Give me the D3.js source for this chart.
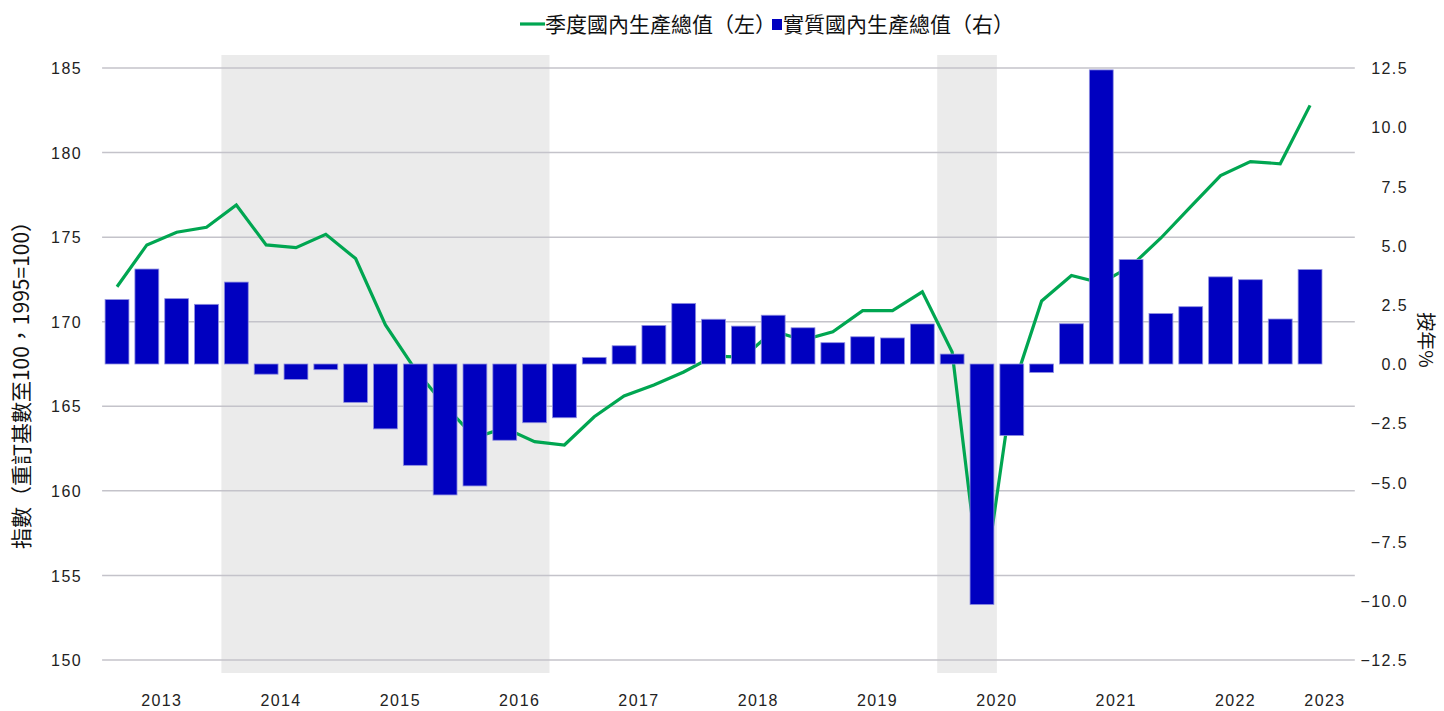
<!DOCTYPE html>
<html>
<head>
<meta charset="utf-8">
<script src="https://cdn.jsdelivr.net/npm/d3@7"></script>
<style>
  html, body { margin: 0; padding: 0; background: #fff; }
  svg { display: block; }
  .tick-label { font-family: "Liberation Sans", Arial, sans-serif; font-size: 16px; letter-spacing: 1.4px; fill: #222; }
  .cjk { font-family: "Noto Sans CJK TC", "Noto Sans CJK SC", sans-serif; fill: #111; }
</style>
</head>
<body>
<svg id="chart" width="1444" height="711"></svg>
<script>
// ---------------- data ----------------
const quarters = [
  "2013Q1","2013Q2","2013Q3","2013Q4",
  "2014Q1","2014Q2","2014Q3","2014Q4",
  "2015Q1","2015Q2","2015Q3","2015Q4",
  "2016Q1","2016Q2","2016Q3","2016Q4",
  "2017Q1","2017Q2","2017Q3","2017Q4",
  "2018Q1","2018Q2","2018Q3","2018Q4",
  "2019Q1","2019Q2","2019Q3","2019Q4",
  "2020Q1","2020Q2","2020Q3","2020Q4",
  "2021Q1","2021Q2","2021Q3","2021Q4",
  "2022Q1","2022Q2","2022Q3","2022Q4",
  "2023Q1","2023Q2"
];
// 季度國內生產總值 index (left axis)
const gdpIndex = [
  172.07, 174.54, 175.29, 175.58,
  176.90, 174.54, 174.38, 175.17,
  173.73, 169.81, 167.17, 165.03,
  163.15, 163.72, 162.91, 162.71,
  164.38, 165.61, 166.26, 167.03,
  167.97, 167.91, 169.45, 168.92,
  169.40, 170.65, 170.65, 171.77,
  168.21, 153.60, 165.84, 171.23,
  172.73, 172.29, 173.29, 174.95,
  176.81, 178.64, 179.47, 179.34,
  182.79
];
// 實質國內生產總值 YoY % (right axis)
const gdpYoY = [
  2.72, 4.01, 2.76, 2.52,
  3.46, -0.43, -0.65, -0.24,
  -1.62, -2.74, -4.28, -5.53,
  -5.15, -3.22, -2.48, -2.27,
  0.28, 0.77, 1.63, 2.56,
  1.89, 1.60, 2.06, 1.53,
  0.90, 1.15, 1.10, 1.69,
  0.42, -10.16, -3.02, -0.36,
  1.70, 12.42, 4.41, 2.13,
  2.42, 3.68, 3.56, 1.90,
  3.99
];
const years = ["2013","2014","2015","2016","2017","2018","2019","2020","2021","2022","2023"];
const leftTicks = [150, 155, 160, 165, 170, 175, 180, 185];
const rightTicks = [-12.5, -10, -7.5, -5, -2.5, 0, 2.5, 5, 7.5, 10, 12.5];
const shadedStart = ["2014Q1", "2020Q1"];
const shadedEnd = ["2016Q3", "2020Q2"];
const legendLabels = ["季度國內生產總值（左）", "實質國內生產總值（右）"];
const leftTitle = "指數（重訂基數至100，1995=100）";
const rightTitle = "按年%";

// ---------------- layout ----------------
const plotLeft = 102.1, plotRight = 1354.8, plotTop = 68, plotBottom = 660;
const green = "#00a651", blue = "#0000c0";

const svg = d3.select("#chart");

const x = d3.scaleBand().domain(quarters).range([plotLeft, plotRight])
  .paddingInner(0.2).paddingOuter(0.1);
const step = x.step();
const yL = d3.scaleLinear().domain([150, 185]).range([plotBottom, plotTop]);
const yR = d3.scaleLinear().domain([-12.5, 12.5]).range([plotBottom, plotTop]);
const cx = q => x(q) + x.bandwidth() / 2;

// shaded periods
svg.append("g").selectAll("rect").data(shadedStart.map((s, i) => [s, shadedEnd[i]]))
  .join("rect")
  .attr("x", d => x(d[0]) - step * 0.1)
  .attr("width", d => x(d[1]) + x.bandwidth() + step * 0.1 - (x(d[0]) - step * 0.1))
  .attr("y", 55)
  .attr("height", 618)
  .attr("fill", "#ebebeb");

// gridlines
svg.append("g").selectAll("line").data(leftTicks).join("line")
  .attr("x1", plotLeft).attr("x2", plotRight)
  .attr("y1", d => yL(d)).attr("y2", d => yL(d))
  .attr("stroke", "#c4c3ca").attr("stroke-width", 1.5);

// left axis labels
const leftAxis = d3.axisLeft(yL).tickValues(leftTicks).tickSize(0).tickPadding(0).tickFormat(d3.format("d"));
const gL = svg.append("g").attr("transform", "translate(82,0)").call(leftAxis);
gL.select(".domain").remove();
gL.selectAll("text").attr("class", "tick-label").attr("dy", "0.35em");

// right axis labels
const rightAxis = d3.axisRight(yR).tickValues(rightTicks).tickSize(0).tickPadding(0).tickFormat(d3.format(".1f"));
const gR = svg.append("g").attr("transform", "translate(1408,0)").call(rightAxis);
gR.select(".domain").remove();
gR.selectAll("text").attr("class", "tick-label").attr("text-anchor", "end").attr("dy", "0.35em");

// line (under bars)
const lineGen = d3.line().x((d, i) => cx(quarters[i])).y(d => yL(d));
svg.append("path").datum(gdpIndex)
  .attr("d", lineGen)
  .attr("fill", "none").attr("stroke", green).attr("stroke-width", 3.2)
  .attr("stroke-linejoin", "miter").attr("stroke-miterlimit", 2);

// bars
svg.append("g").selectAll("rect").data(gdpYoY).join("rect")
  .attr("x", (d, i) => x(quarters[i]))
  .attr("width", x.bandwidth())
  .attr("y", d => yR(Math.max(0, d)))
  .attr("height", d => Math.abs(yR(d) - yR(0)))
  .attr("fill", blue)
  .attr("stroke", "#8f8fe0").attr("stroke-width", 0.8);

// year labels (centered on each year's quarters)
const yearPos = years.map(y => {
  const qs = quarters.filter(q => q.startsWith(y));
  return (cx(qs[0]) + cx(qs[qs.length - 1])) / 2;
});
svg.append("g").selectAll("text").data(years).join("text")
  .attr("class", "tick-label")
  .attr("x", (d, i) => yearPos[i])
  .attr("y", 706)
  .attr("text-anchor", "middle")
  .text(d => d);

// axis titles
svg.append("text").attr("class", "cjk")
  .attr("transform", "translate(29,380) rotate(-90)")
  .attr("text-anchor", "middle")
  .style("font-size", "21px")
  .text(leftTitle);
svg.append("text").attr("class", "cjk")
  .attr("transform", "translate(1419,340) rotate(90)")
  .attr("text-anchor", "middle")
  .style("font-size", "19px")
  .text(rightTitle);

// legend
const lg = svg.append("g");
lg.append("line").attr("x1", 520).attr("x2", 545).attr("y1", 24).attr("y2", 24)
  .attr("stroke", green).attr("stroke-width", 3.2);
lg.append("text").attr("class", "cjk").attr("x", 545).attr("y", 31.5)
  .style("font-size", "21px").text(legendLabels[0]);
lg.append("rect").attr("x", 772).attr("y", 19).attr("width", 10).attr("height", 11).attr("fill", blue);
lg.append("text").attr("class", "cjk").attr("x", 783).attr("y", 31.5)
  .style("font-size", "21px").text(legendLabels[1]);
</script>
</body>
</html>
